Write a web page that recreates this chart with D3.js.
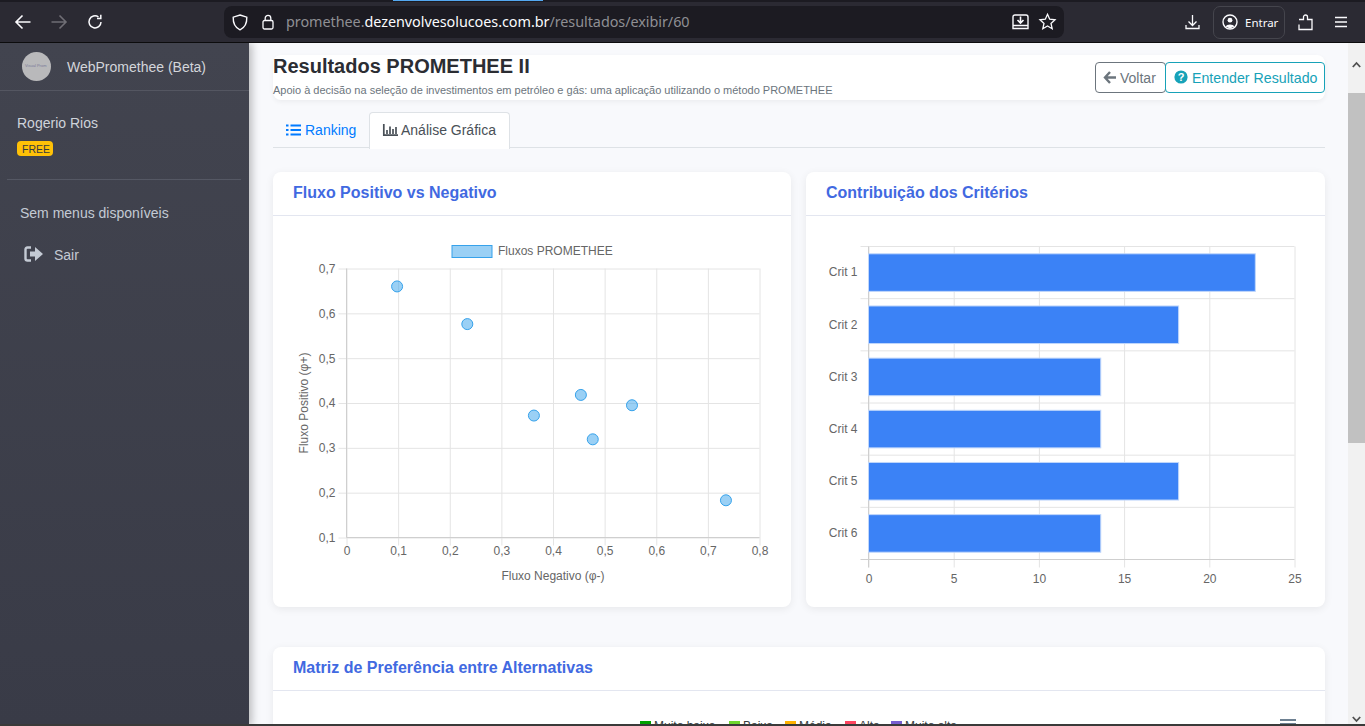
<!DOCTYPE html>
<html lang="pt-BR">
<head>
<meta charset="utf-8">
<title>Resultados PROMETHEE II</title>
<script src="https://cdnjs.cloudflare.com/ajax/libs/d3/7.8.5/d3.min.js"></script>
<style>
html,body{margin:0;padding:0;width:1365px;height:726px;overflow:hidden;background:#f8f9fc;font-family:"Liberation Sans",Arial,sans-serif;}
.abs,.t{position:absolute;}
.t{white-space:nowrap;line-height:1;}
svg{position:absolute;overflow:visible;}
.card{position:absolute;background:#fff;border-radius:8px;box-shadow:0 2px 8px rgba(0,0,0,.07);}
.card-line{position:absolute;left:0;right:0;height:1px;background:#e3e6f0;}
.card-title{position:absolute;font-weight:bold;font-size:16px;color:#4169e1;white-space:nowrap;line-height:1;}
.chart text{font-family:"Liberation Sans",Arial,sans-serif;font-size:12px;fill:#666;}
.chart .domain{display:none;}
</style>
</head>
<body>

<!-- page -->
<div class="abs" style="left:273px;top:55px;width:1052px;height:45px;background:#fff;border-radius:8px;box-shadow:0 2px 5px rgba(0,0,0,.05)"></div>
<div class="t" style="left:273px;top:56px;font-size:20px;font-weight:bold;color:#2b2d33">Resultados PROMETHEE II</div>
<div class="t" style="left:273px;top:85px;font-size:11px;color:#6c757d">Apoio à decisão na seleção de investimentos em petróleo e gás: uma aplicação utilizando o método PROMETHEE</div>
<div class="abs" style="left:1095px;top:62px;width:69px;height:29px;border:1px solid #6c757d;border-radius:4px"></div>
<svg style="left:1103px;top:71px" width="14" height="13"><path d="M7 1 L2 6.5 L7 12 M2 6.5 H13" fill="none" stroke="#6c757d" stroke-width="2.4"/></svg>
<div class="t" style="left:1120px;top:71px;font-size:14px;color:#6c757d">Voltar</div>
<div class="abs" style="left:1165px;top:62px;width:158px;height:29px;border:1px solid #17a2b8;border-radius:4px"></div>
<svg style="left:1174px;top:70px" width="14" height="14"><circle cx="7" cy="7" r="6.6" fill="#17a2b8"/><text x="7" y="11" text-anchor="middle" font-size="11" font-weight="bold" fill="#fff" font-family="Liberation Sans">?</text></svg>
<div class="t" style="left:1192px;top:71px;font-size:14.2px;color:#17a2b8">Entender Resultado</div>

<div class="abs" style="left:273px;top:147px;width:1052px;height:1px;background:#dee2e6"></div>
<div class="abs" style="left:369px;top:112px;width:139px;height:36px;background:#f8f9fc;border:1px solid #dee2e6;border-bottom:none;border-radius:4px 4px 0 0;background:#fff"></div>
<svg style="left:286px;top:124px" width="15" height="12"><path d="M0 1.5H2.5M0 6H2.5M0 10.5H2.5M4.5 1.5H15M4.5 6H15M4.5 10.5H15" stroke="#007bff" stroke-width="2"/></svg>
<div class="t" style="left:305px;top:123px;font-size:14px;color:#007bff">Ranking</div>
<svg style="left:383px;top:124px" width="15" height="12"><path d="M.8 0V11.2H15M4 10V6M7 10V2.5M10 10V5M13 10V3" fill="none" stroke="#495057" stroke-width="1.7"/></svg>
<div class="t" style="left:401px;top:123px;font-size:14px;color:#495057">Análise Gráfica</div>

<div class="card" style="left:273px;top:172px;width:518px;height:435px">
  <div class="card-line" style="top:43px"></div>
  <div class="card-title" style="left:20px;top:13px">Fluxo Positivo vs Negativo</div>
</div>
<div class="card" style="left:806px;top:172px;width:519px;height:435px">
  <div class="card-line" style="top:43px"></div>
  <div class="card-title" style="left:20px;top:13px">Contribuição dos Critérios</div>
</div>
<div class="card" style="left:273px;top:647px;width:1052px;height:120px">
  <div class="card-line" style="top:43px"></div>
  <div class="card-title" style="left:20px;top:13px">Matriz de Preferência entre Alternativas</div>
</div>

<svg id="scatter" class="chart" style="left:0;top:0" width="1365" height="726"></svg>
<svg id="bars" class="chart" style="left:0;top:0" width="1365" height="726"></svg>
<svg id="matrixLegend" style="left:0;top:0" width="1365" height="726"></svg>

<svg style="left:1280px;top:719px" width="16" height="7"><path d="M0 1H16M0 5H16" stroke="#6e8192" stroke-width="2"/></svg>

<!-- scrollbar -->
<div class="abs" style="left:1348px;top:43px;width:17px;height:683px;background:#f1f1f1"></div>
<div class="abs" style="left:1348px;top:93px;width:17px;height:350px;background:#c1c1c1"></div>
<svg style="left:1352px;top:62px" width="9" height="6"><path d="M.8 5L4.5 1L8.2 5" fill="none" stroke="#505050" stroke-width="1.8"/></svg>
<svg style="left:1352px;top:716px" width="9" height="6"><path d="M.8 1L4.5 5L8.2 1" fill="none" stroke="#505050" stroke-width="1.8"/></svg>

<!-- sidebar -->
<div class="abs" style="left:0;top:43px;width:249px;height:683px;background:linear-gradient(#42444f,#393b47);box-shadow:3px 0 8px rgba(0,0,0,.25)"></div>
<div class="abs" style="left:22px;top:52px;width:29px;height:29px;border-radius:50%;background:#b9b9bb"></div>
<div class="t" style="left:25px;top:64px;font-size:4px;color:#7a7a9a">Visual Prom</div>
<div class="t" style="left:67px;top:60px;font-size:14px;color:#d3d5da">WebPromethee (Beta)</div>
<div class="abs" style="left:0;top:90px;width:249px;height:1px;background:#545661"></div>
<div class="t" style="left:17px;top:116px;font-size:14px;color:#cfd3da">Rogerio Rios</div>
<div class="abs" style="left:17px;top:141px;width:36px;height:15px;background:#ffc107;border-radius:4px"></div>
<div class="t" style="left:22px;top:144px;font-size:10.5px;color:#343a40">FREE</div>
<div class="abs" style="left:7px;top:179px;width:234px;height:1px;background:#555864"></div>
<div class="t" style="left:20px;top:206px;font-size:14px;color:#c4cad4">Sem menus disponíveis</div>
<svg style="left:24px;top:246px" width="20" height="16"><path d="M7 1.5H3.5Q1.5 1.5 1.5 3.5V12.5Q1.5 14.5 3.5 14.5H7" fill="none" stroke="#c4cad4" stroke-width="2.4"/><path d="M6 5.5H11V1L19 8L11 15V10.5H6Z" fill="#c4cad4"/></svg>
<div class="t" style="left:54px;top:248px;font-size:14px;color:#c4cad4">Sair</div>

<!-- browser toolbar -->
<div class="abs" style="left:0;top:0;width:1365px;height:42px;background:#2b2a33"></div>
<div class="abs" style="left:0;top:0;width:1365px;height:2px;background:#1c1b22"></div>
<div class="abs" style="left:393px;top:0;width:150px;height:1px;background:#54a8f0"></div>
<div class="abs" style="left:0;top:42px;width:1365px;height:1px;background:#0c0c0d"></div>
<div class="abs" style="left:224px;top:6px;width:840px;height:32px;background:#1c1b22;border-radius:8px"></div>
<svg style="left:15px;top:14px" width="16" height="16"><path d="M7.5 1.5L1 8L7.5 14.5M1.5 8H15.5" fill="none" stroke="#fbfbfe" stroke-width="1.6"/></svg>
<svg style="left:51px;top:14px" width="16" height="16"><path d="M8.5 1.5L15 8L8.5 14.5M14.5 8H.5" fill="none" stroke="#6f6e75" stroke-width="1.6"/></svg>
<svg style="left:87px;top:14px" width="16" height="16"><path d="M14 8A6 6 0 1 1 11.5 3M13.8 .8V4.6H10" fill="none" stroke="#fbfbfe" stroke-width="1.5"/></svg>
<svg style="left:232px;top:14px" width="16" height="17"><path d="M8 1L14.8 3.2C15 9 12.8 13.6 8 15.8C3.2 13.6 1 9 1.2 3.2Z" fill="none" stroke="#fbfbfe" stroke-width="1.4"/></svg>
<svg style="left:262px;top:14px" width="12" height="16"><rect x="1" y="6.5" width="10" height="8.5" rx="1.5" fill="none" stroke="#fbfbfe" stroke-width="1.3"/><path d="M3.2 6.5V4.2A2.8 2.8 0 0 1 8.8 4.2V6.5" fill="none" stroke="#fbfbfe" stroke-width="1.3"/></svg>
<div class="t" style="left:286px;top:15px;font-size:14.4px;font-family:'Noto Sans',sans-serif;color:#8f8f94;letter-spacing:-.05px">promethee.<span style="color:#fbfbfe">dezenvolvesolucoes.com.br</span>/resultados/exibir/60</div>
<svg style="left:1012px;top:14px" width="17" height="16"><path d="M3 1H14Q16 1 16 3V14.5H1V3Q1 1 3 1ZM1 11.5H16" fill="none" stroke="#fbfbfe" stroke-width="1.4"/><path d="M8.5 2.5V8M5.5 6L8.5 9L11.5 6" fill="none" stroke="#fbfbfe" stroke-width="1.6"/></svg>
<svg style="left:1039px;top:13px" width="17" height="17"><path d="M8.5 1.3L10.7 6.2L16 6.8L12 10.4L13.2 15.7L8.5 13L3.8 15.7L5 10.4L1 6.8L6.3 6.2Z" fill="none" stroke="#fbfbfe" stroke-width="1.3"/></svg>
<svg style="left:1185px;top:14px" width="15" height="16"><path d="M7.5 1V11M3.5 7.5L7.5 11.5L11.5 7.5M1 11V14.5H14V11" fill="none" stroke="#fbfbfe" stroke-width="1.3"/></svg>
<div class="abs" style="left:1213px;top:6px;width:70px;height:31px;border:1px solid #45454d;border-radius:7px"></div>
<svg style="left:1222px;top:14px" width="16" height="16"><circle cx="8" cy="8" r="7" fill="none" stroke="#fbfbfe" stroke-width="1.4"/><circle cx="8" cy="6.2" r="2.4" fill="#fbfbfe"/><path d="M3.5 12.5C5 9.8 11 9.8 12.5 12.5L8 14.5Z" fill="#fbfbfe"/></svg>
<div class="t" style="left:1245px;top:17px;font-size:11.5px;font-family:'Noto Sans',sans-serif;color:#fbfbfe">Entrar</div>
<svg style="left:1298px;top:14px" width="16" height="17"><path d="M1 5.5H5.5V3A2 2 0 0 1 9.5 3V5.5H14V15.5H1V10.5" fill="none" stroke="#fbfbfe" stroke-width="1.3"/></svg>
<svg style="left:1334px;top:16px" width="14" height="12"><path d="M1 1.5H13M1 6H13M1 10.5H13" stroke="#fbfbfe" stroke-width="1.4"/></svg>

<!-- taskbar edge -->
<div class="abs" style="left:0;top:724px;width:1365px;height:2px;background:#3a3a3a"></div>

<script>
//scatter values
let fluxoNegativo = [0.098, 0.234, 0.363, 0.454, 0.553, 0.477, 0.735];
let fluxoPositivo = [0.660, 0.576, 0.372, 0.418, 0.395, 0.319, 0.183];
let xTicks = [0, 0.1, 0.2, 0.3, 0.4, 0.5, 0.6, 0.7, 0.8];
let yTicks = [0.1, 0.2, 0.3, 0.4, 0.5, 0.6, 0.7];

//bar values
let criterios = ["Crit 1", "Crit 2", "Crit 3", "Crit 4", "Crit 5", "Crit 6"];
let contribuicao = [22.7, 18.2, 13.63, 13.63, 18.2, 13.63];
let contribTicks = [0, 5, 10, 15, 20, 25];

//heatmap legend, cut off by the bottom of the window
let matrizNomes = ["Muito baixa", "Baixa", "Média", "Alta", "Muito alta"];
let matrizCores = ["#00a100", "#6fd62e", "#ffb200", "#ff4560", "#775dd0"];
let matrizLeft = [640, 729, 785, 845, 891];

const gridColor = "#e4e4e4";
const axisColor = "#cfcfcf";
const virgula = d3.formatLocale({decimal: ",", thousands: ".", grouping: [3], currency: ["R$", ""]}).format("~g");

function graphScatter(){

	let margin = {top: 268.5, right: 605.5, bottom: 188.5, left: 346.5};
	let width = 1365;
	let height = 726;

	let svg = d3.select("#scatter");

	const xScale = d3.scaleLinear()
		.domain([0, 0.8])
		.range([margin.left, width - margin.right]);

	const yScale = d3.scaleLinear()
		.domain([0.1, 0.7])
		.range([height - margin.bottom, margin.top]);

	const xAxis = d3.axisBottom(xScale)
		.tickValues(xTicks)
		.tickFormat(virgula)
		.tickSize(-(height - margin.bottom - margin.top))
		.tickPadding(9);

	const yAxis = d3.axisLeft(yScale)
		.tickValues(yTicks)
		.tickFormat(virgula)
		.tickSize(-(width - margin.right - margin.left))
		.tickPadding(11);

	let gx = svg.append("g")
		.attr("transform", `translate(0,${height - margin.bottom})`)
		.call(xAxis);

	let gy = svg.append("g")
		.attr("transform", `translate(${margin.left},0)`)
		.call(yAxis);

	gx.selectAll("line").attr("stroke", gridColor).attr("y2", -(height - margin.bottom - margin.top)).attr("y1", 8);
	gy.selectAll("line").attr("stroke", gridColor).attr("x1", -8);

	//axis lines on top of the grid
	svg.append("line").attr("x1", margin.left).attr("x2", margin.left)
		.attr("y1", margin.top).attr("y2", height - margin.bottom).attr("stroke", axisColor);
	svg.append("line").attr("x1", margin.left).attr("x2", width - margin.right)
		.attr("y1", height - margin.bottom).attr("y2", height - margin.bottom).attr("stroke", axisColor);

	//titles
	svg.append("text").attr("x", 553).attr("y", 580).attr("text-anchor", "middle")
		.text("Fluxo Negativo (φ-)");
	svg.append("text").attr("transform", "translate(308,403) rotate(-90)").attr("text-anchor", "middle")
		.text("Fluxo Positivo (φ+)");

	//legend
	svg.append("rect").attr("x", 452).attr("y", 245.5).attr("width", 40).attr("height", 12)
		.attr("fill", "rgba(54,162,235,0.5)").attr("stroke", "#36a2eb");
	svg.append("text").attr("x", 498).attr("y", 255).text("Fluxos PROMETHEE");

	//points
	svg.selectAll(".ponto")
		.data(fluxoNegativo)
		.enter()
		.append("circle")
		.attr("class", "ponto")
		.attr("cx", (d) => { return xScale(d); })
		.attr("cy", (d, i) => { return yScale(fluxoPositivo[i]); })
		.attr("r", 5.5)
		.attr("fill", "rgba(54,162,235,0.5)")
		.attr("stroke", "#36a2eb")
		.attr("stroke-width", 1);
}

function graphBars(){

	let margin = {top: 246.5, right: 70.5, bottom: 166.5, left: 868.5};
	let width = 1365;
	let height = 726;

	let svg = d3.select("#bars");

	const xScale = d3.scaleLinear()
		.domain([0, 25])
		.range([margin.left, width - margin.right]);

	const yScale = d3.scaleBand()
		.domain(criterios)
		.range([margin.top, height - margin.bottom])
		.paddingInner(0.28)
		.paddingOuter(0.14);

	const xAxis = d3.axisBottom(xScale)
		.tickValues(contribTicks)
		.tickSize(8)
		.tickPadding(7);

	let gx = svg.append("g")
		.attr("transform", `translate(0,${height - margin.bottom})`)
		.call(xAxis);

	gx.selectAll("line").attr("stroke", gridColor).attr("y1", -(height - margin.bottom - margin.top));

	//horizontal separators between the categories
	let step = yScale.step();
	let separadores = [0, 1, 2, 3, 4, 5];
	svg.selectAll(".sep")
		.data(separadores)
		.enter()
		.append("line")
		.attr("class", "sep")
		.attr("x1", margin.left - 8)
		.attr("x2", width - margin.right)
		.attr("y1", (d) => { return margin.top + d * step; })
		.attr("y2", (d) => { return margin.top + d * step; })
		.attr("stroke", gridColor);

	svg.append("line").attr("x1", margin.left).attr("x2", margin.left)
		.attr("y1", margin.top).attr("y2", height - margin.bottom + 8).attr("stroke", axisColor);
	svg.append("line").attr("x1", margin.left - 8).attr("x2", width - margin.right)
		.attr("y1", height - margin.bottom).attr("y2", height - margin.bottom).attr("stroke", axisColor);

	svg.selectAll(".crit")
		.data(criterios)
		.enter()
		.append("text")
		.attr("class", "crit")
		.attr("x", margin.left - 11)
		.attr("y", (d) => { return yScale(d) + yScale.bandwidth() / 2; })
		.attr("dy", "0.32em")
		.attr("text-anchor", "end")
		.text((d) => { return d; });

	svg.selectAll(".bar")
		.data(contribuicao)
		.enter()
		.append("rect")
		.attr("class", "bar")
		.attr("x", xScale(0))
		.attr("y", (d, i) => { return yScale(criterios[i]); })
		.attr("width", (d) => { return xScale(d) - xScale(0); })
		.attr("height", yScale.bandwidth())
		.attr("fill", "#3b82f6")
		.attr("stroke", "#bfd6fb")
		.attr("stroke-width", 1);
}

function matrixLegend(){
	let svg = d3.select("#matrixLegend");
	svg.selectAll("rect")
		.data(matrizNomes)
		.enter()
		.append("rect")
		.attr("x", (d, i) => { return matrizLeft[i]; })
		.attr("y", 721)
		.attr("width", 11)
		.attr("height", 11)
		.attr("fill", (d, i) => { return matrizCores[i]; });
	svg.selectAll("text")
		.data(matrizNomes)
		.enter()
		.append("text")
		.attr("x", (d, i) => { return matrizLeft[i] + 14; })
		.attr("y", 730)
		.attr("font-size", 12)
		.attr("font-family", "Liberation Sans")
		.attr("fill", "#373d3f")
		.text((d) => { return d; });
}

graphScatter();
graphBars();
matrixLegend();
</script>
</body>
</html>
